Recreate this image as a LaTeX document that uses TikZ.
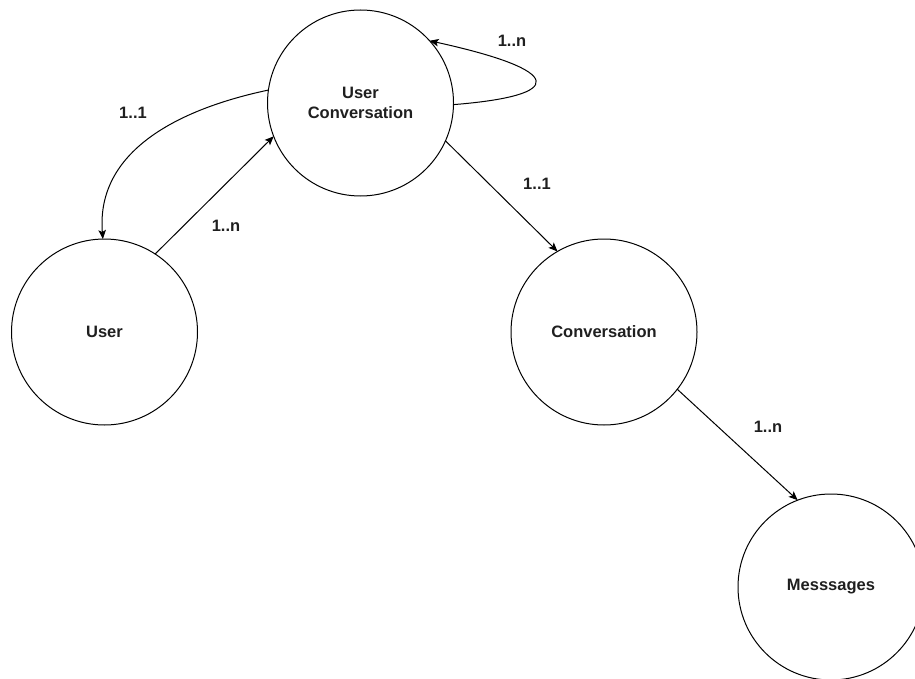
\documentclass[tikz,border=0pt]{standalone}
\usepackage{fontspec}
\setmainfont{Liberation Sans}
\usetikzlibrary{arrows.meta}
\begin{document}
\begin{tikzpicture}[x=1pt,y=-1pt,
  entity/.style={circle,draw,line width=1pt,minimum size=186pt,inner sep=0pt,outer sep=0pt,
                 font=\fontsize{16.5}{19.5}\selectfont\bfseries,align=center,text=black!88},
  card/.style={font=\fontsize{16.5}{19.5}\selectfont\bfseries,text=black!88,inner sep=0pt},
  link/.style={line width=1pt,-{Stealth[length=9pt,width=7.5pt,inset=2pt]}}]
\useasboundingbox (0,0) rectangle (915,679);

% entities
\node[entity] (uc)   at (360.5,103) {User\\Conversation};
\node[entity] (user) at (104.5,332) {User};
\node[entity] (conv) at (604,332)   {Conversation};
\node[entity] (msg)  at (831,587)   {Messsages};

% relationships
\draw[link] (user.57) -- (uc.201);
\draw[link] (uc.172) .. controls +(-90,19) and +(-7,-88) .. (user.91.5);
\draw[link] (uc.-1) .. controls +(113,-9) and +(137,30) .. (uc.42);
\draw[link] (uc.-24) -- (conv.120.4);
\draw[link] (conv.-38.7) -- (msg.111.8);

% cardinalities
\node[card] (l1) at (226,226) {1..n};
\node[card] (l2) at (133,113) {1..1};
\node[card] (l3) at (512,41)  {1..n};
\node[card] (l4) at (537,184) {1..1};
\node[card] (l5) at (768,427) {1..n};
\end{tikzpicture}
\end{document}
